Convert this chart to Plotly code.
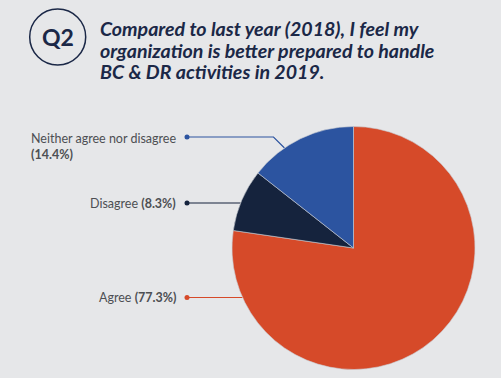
import math
import plotly.graph_objects as go

# ---- data ----
labels = ["Agree", "Disagree", "Neither agree nor disagree"]
values = [77.3, 8.3, 14.4]
colors = ["#d64a29", "#15233d", "#2c54a0"]
title_lines = [
    "Compared to last year (2018), I feel my",
    "organization is better prepared to handle",
    "BC & DR activities in 2019.",
]
question = "Q2"

W, H = 501, 378
BG = "#e6e7e9"
NAVY = "#1b2847"
GRAY = "#4d4f53"

# pie geometry (pixels)
cx, cy, R = 353.5, 248.0, 121.5


def px(x):
    return x / W


def py(y):
    return 1 - y / H


fig = go.Figure()
fig.add_trace(go.Pie(
    labels=labels, values=values, sort=False, direction="clockwise", rotation=0,
    marker=dict(colors=colors, line=dict(width=0.6, color="#c9ccd3")),
    textinfo="none", hoverinfo="label+percent", showlegend=False,
    domain=dict(x=[px(cx - R), px(cx + R)], y=[py(cy + R), py(cy - R)]),
))

shapes = []
annotations = []

# title
for i, line in enumerate(title_lines):
    annotations.append(dict(
        x=px(98), y=py(28.5 + i * 21.5), xref="paper", yref="paper",
        xanchor="left", yanchor="middle", showarrow=False, text="<i><b>%s</b></i>" % line,
        font=dict(family="Lato", size=19.6, color=NAVY),
    ))
# circled Q2
shapes.append(dict(type="circle", xref="paper", yref="paper",
                   x0=px(57.7 - 28), x1=px(57.7 + 28), y0=py(37 + 28), y1=py(37 - 28),
                   line=dict(color=NAVY, width=1.5)))
annotations.append(dict(x=px(57.7), y=py(37.5), xref="paper", yref="paper",
                        xanchor="center", yanchor="middle", showarrow=False,
                        text="<b>%s</b>" % question,
                        font=dict(family="Lato", size=23, color=NAVY)))

# labels with leader lines
label_y = {"Agree": 297.5, "Disagree": 203.0, "Neither agree nor disagree": 137.0}
dot_x = 187.0
text_right = 178.0
for lab, val, col in zip(labels, values, colors):
    ly = label_y[lab]
    if lab.startswith("Neither"):
        ey = 148.0
        ex = cx - math.sqrt(R * R - (ey - cy) ** 2)
        elbow = (ex - (ey - ly), ly)
        path = "M %f,%f L %f,%f L %f,%f" % (px(dot_x), py(ly), px(elbow[0]), py(elbow[1]), px(ex), py(ey))
        text = "%s<br><b>(%.1f%%)</b>" % (lab, val)
        annotations.append(dict(x=px(text_right), y=py(ly - 8), xref="paper", yref="paper",
                                xanchor="right", yanchor="top", align="left", showarrow=False,
                                text=text, font=dict(family="Lato", size=12.5, color=GRAY)))
    else:
        ex = cx - math.sqrt(R * R - (ly - cy) ** 2)
        path = "M %f,%f L %f,%f" % (px(dot_x), py(ly), px(ex), py(ly))
        annotations.append(dict(x=px(text_right), y=py(ly), xref="paper", yref="paper",
                                xanchor="right", yanchor="middle", align="right", showarrow=False,
                                text="%s <b>(%.1f%%)</b>" % (lab, val),
                                font=dict(family="Lato", size=12.5, color=GRAY)))
    shapes.append(dict(type="path", path=path, xref="paper", yref="paper",
                       line=dict(color=col, width=1.2), layer="below"))
    shapes.append(dict(type="circle", xref="paper", yref="paper",
                       x0=px(dot_x - 2.5), x1=px(dot_x + 2.5), y0=py(ly + 2.5), y1=py(ly - 2.5),
                       fillcolor=col, line=dict(width=0)))

fig.update_layout(
    width=W, height=H, margin=dict(l=0, r=0, t=0, b=0),
    paper_bgcolor=BG, plot_bgcolor=BG,
    shapes=shapes, annotations=annotations,
)

fig.write_html(
    "out.html",
    config={"displayModeBar": False},
    post_script="document.body.style.margin='0';document.body.style.background='%s';" % BG,
)
